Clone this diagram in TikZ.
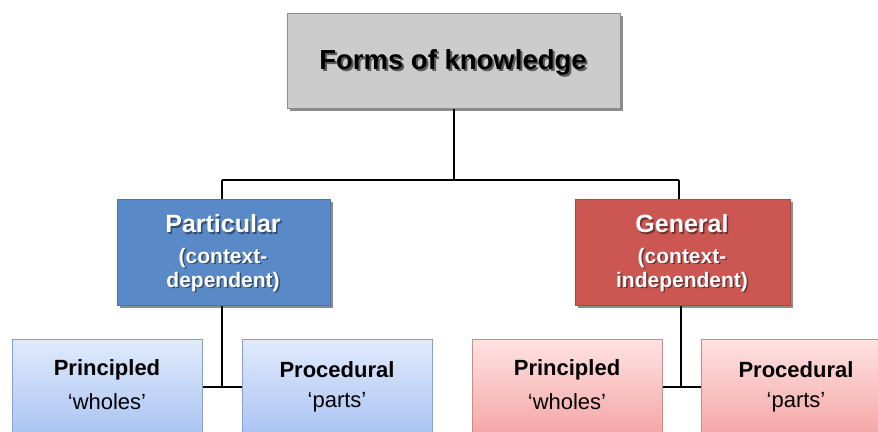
\documentclass[tikz,border=0pt]{standalone}
\usepackage{fontspec}
\setmainfont{Liberation Sans}
\usetikzlibrary{shadows,calc}
\definecolor{topfill}{HTML}{CCCCCC}
\definecolor{topedge}{HTML}{8C8C8C}
\definecolor{bluefill}{HTML}{5A89C8}
\definecolor{blueedge}{HTML}{4A74AE}
\definecolor{redfill}{HTML}{CC5652}
\definecolor{rededge}{HTML}{B04643}
\definecolor{ltbluetop}{HTML}{E0EAFC}
\definecolor{ltbluebot}{HTML}{A7C2F2}
\definecolor{ltblueedge}{HTML}{7FA2DA}
\definecolor{ltredtop}{HTML}{FFE2E2}
\definecolor{ltredbot}{HTML}{F4A3A3}
\definecolor{ltrededge}{HTML}{D98585}
\tikzset{
  x=1pt, y=-1pt,
  box/.style={draw, line width=0.8pt, anchor=north west, inner sep=0pt, align=center},
  heavybox/.style={box, drop shadow={shadow xshift=2.5pt, shadow yshift=-2.5pt, opacity=0.45, fill=black}},
  link/.style={line width=2pt, black},
  leaf/.style={box, line width=0.7pt, minimum width=190pt, minimum height=100pt},
  blueleaf/.style={leaf, draw=ltblueedge, top color=ltbluetop, bottom color=ltbluebot},
  redleaf/.style={leaf, draw=ltrededge, top color=ltredtop, bottom color=ltredbot},
  titlefont/.style={font=\bfseries\fontsize{27.5}{32}\selectfont},
  headfont/.style={font=\bfseries\fontsize{25}{29}\selectfont},
  subfont/.style={align=center, font=\bfseries\fontsize{21}{24}\selectfont},
  leafbold/.style={font=\bfseries\fontsize{22}{26}\selectfont},
  leafplain/.style={font=\fontsize{22}{26}\selectfont},
  txtshadow/.style={text=black, opacity=0.45},
}
\begin{document}
\begin{tikzpicture}
\useasboundingbox (0,0) rectangle (878,431);
\begin{scope}
\clip (0,0) rectangle (878,431);

% connector corners and junctions
\coordinate (hl) at (222,180);
\coordinate (hr) at (679,180);
\coordinate (jl) at (222,387);
\coordinate (jr) at (681,387);

% top box
\node[heavybox, draw=topedge, fill=topfill, minimum width=333pt, minimum height=95pt] (top) at (287,13) {};
% middle boxes
\node[heavybox, draw=blueedge, fill=bluefill, minimum width=213pt, minimum height=106pt] (part) at (117,199) {};
\node[heavybox, draw=rededge, fill=redfill, minimum width=215pt, minimum height=106pt] (gen) at (575,199) {};
% bottom boxes
\node[blueleaf] (pw) at (12,339) {};
\node[blueleaf] (pp) at (242,339) {};
\node[redleaf] (gw) at (472,339) {};
\node[redleaf, minimum width=200pt] (gp) at (701,339) {};

\draw[link] (top.south) -- (top.south |- hl);
\draw[link] (hl) -- (hr);
\draw[link] (hl) -- (part.north -| hl);
\draw[link] (hr) -- (gen.north -| hr);
\draw[link] (part.south -| jl) -- (jl);
\draw[link] (gen.south -| jr) -- (jr);
\draw[link] (pw.east |- jl) -- (pp.west |- jl);
\draw[link] (gw.east |- jr) -- (gp.west |- jr);

% titles with soft shadows
\coordinate (tt) at (453,62);
\node[titlefont, txtshadow, opacity=0.55] at ($(tt)+(2,2)$) {Forms of knowledge};
\node[titlefont] (ttx) at (tt) {Forms of knowledge};

\coordinate (pt1) at (223,224);
\coordinate (pt2) at (223,270);
\node[headfont, txtshadow] at ($(pt1)+(1.5,1.5)$) {Particular};
\node[headfont, text=white] (ptx) at (pt1) {Particular};
\node[subfont, txtshadow] at ($(pt2)+(1.5,1.5)$) {(context-\\dependent)};
\node[subfont, text=white] (ptd) at (pt2) {(context-\\dependent)};

\coordinate (gt1) at (682,224);
\coordinate (gt2) at (682,270);
\node[headfont, txtshadow] at ($(gt1)+(1.5,1.5)$) {General};
\node[headfont, text=white] (gtx) at (gt1) {General};
\node[subfont, txtshadow] at ($(gt2)+(1.5,1.5)$) {(context-\\independent)};
\node[subfont, text=white] (gtd) at (gt2) {(context-\\independent)};

% leaf labels
\node[leafbold] (l1a) at (107,370) {Principled};
\node[leafplain] (l1b) at (107,402) {‘wholes’};
\node[leafbold] (l2a) at (337,370) {Procedural};
\node[leafplain] (l2b) at (337,402) {‘parts’};
\node[leafbold] (l3a) at (567,370) {Principled};
\node[leafplain] (l3b) at (567,402) {‘wholes’};
\node[leafbold] (l4a) at (796,370) {Procedural};
\node[leafplain] (l4b) at (796,402) {‘parts’};
\end{scope}
\end{tikzpicture}
\end{document}
